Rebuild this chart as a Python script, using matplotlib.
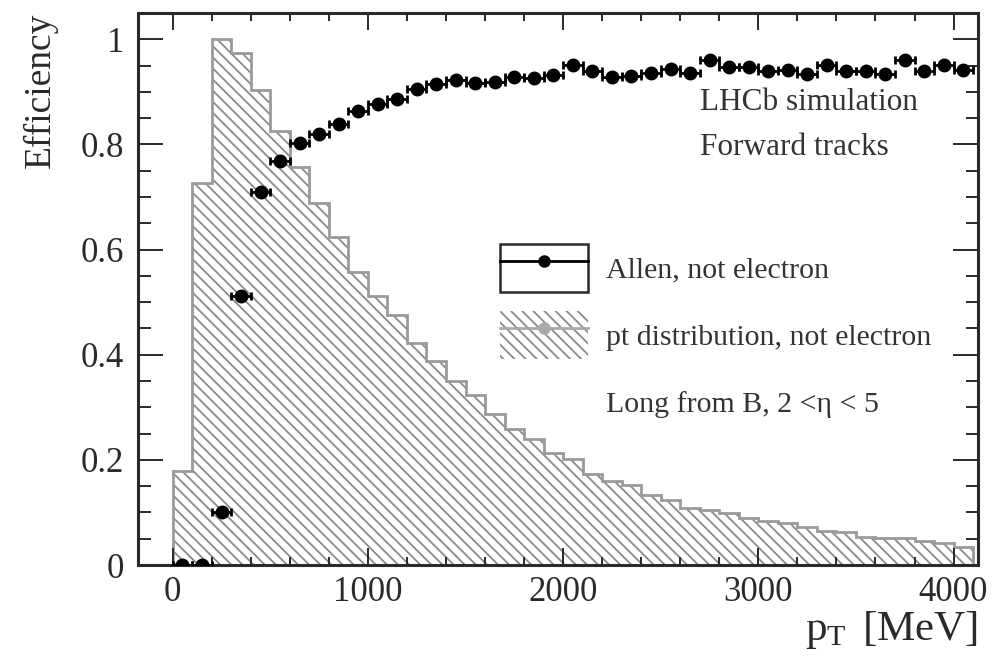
import numpy as np
import matplotlib
matplotlib.use('Agg')
import matplotlib.pyplot as plt
from matplotlib.patches import Rectangle
from matplotlib.lines import Line2D
from matplotlib.legend_handler import HandlerTuple
from matplotlib.ticker import MultipleLocator

plt.rcParams['font.family'] = ['Liberation Serif', 'DejaVu Serif']
plt.rcParams['mathtext.fontset'] = 'custom'
plt.rcParams['mathtext.rm'] = 'Liberation Serif'
plt.rcParams['mathtext.it'] = 'Liberation Serif:italic'
plt.rcParams['hatch.linewidth'] = 1.3

# pt distribution (normalised), 100 MeV bins
hist_edges = np.arange(-100, 4101, 100)
hist_vals = [0.0, 0.178, 0.727, 1.0, 0.974, 0.904, 0.825, 0.757, 0.689, 0.624,
             0.557, 0.512, 0.476, 0.423, 0.388, 0.350, 0.323, 0.287, 0.258,
             0.240, 0.213, 0.201, 0.173, 0.159, 0.152, 0.134, 0.124, 0.109,
             0.104, 0.099, 0.089, 0.083, 0.080, 0.073, 0.065, 0.063, 0.054,
             0.051, 0.051, 0.045, 0.042, 0.035]

# Allen efficiency, bin centres
eff_x = np.arange(50, 4100, 100)
eff_y = [0.0, 0.0, 0.10, 0.511, 0.710, 0.768, 0.803, 0.820, 0.838, 0.864,
         0.876, 0.887, 0.905, 0.915, 0.923, 0.916, 0.918, 0.928, 0.926, 0.932,
         0.951, 0.940, 0.928, 0.930, 0.935, 0.944, 0.935, 0.961, 0.948, 0.948,
         0.940, 0.942, 0.934, 0.951, 0.940, 0.940, 0.934, 0.961, 0.940, 0.951,
         0.942]
eff_xerr = 50

hatch_col = '#8a8a8a'
line_col = '#9a9a9a'
text_col = '#2a2a2a'
hatch = '\\\\\\'

fig = plt.figure(figsize=(9.97, 6.70), dpi=100)
ax = fig.add_axes([0.1384, 0.1567, 0.8425, 0.8239])

ax.stairs(hist_vals, hist_edges, fill=True, facecolor='none',
          edgecolor=hatch_col, hatch=hatch, linewidth=0)
ax.stairs(hist_vals, hist_edges, fill=False, edgecolor=line_col, linewidth=2)

ax.errorbar(eff_x, eff_y, xerr=eff_xerr, fmt='o', color='black', ms=9,
            elinewidth=2, capsize=3, capthick=2, zorder=5)

ax.set_xlim(-178, 4125)
ax.set_ylim(0, 1.05)

ax.xaxis.set_major_locator(MultipleLocator(1000))
ax.xaxis.set_minor_locator(MultipleLocator(200))
ax.yaxis.set_major_locator(MultipleLocator(0.2))
ax.yaxis.set_minor_locator(MultipleLocator(0.05))
ax.yaxis.set_major_formatter(plt.FuncFormatter(lambda v, p: '%g' % round(v, 2)))

ax.tick_params(which='both', direction='in', top=True, right=True,
               labelsize=25, width=1.4, colors=text_col)
ax.tick_params(axis='x', which='major', length=12, pad=8)
ax.tick_params(axis='x', which='minor', length=6)
ax.tick_params(axis='y', which='major', length=18, pad=10)
ax.tick_params(axis='y', which='minor', length=9)
for s in ax.spines.values():
    s.set_linewidth(2.2)
    s.set_color(text_col)

ax.set_ylabel('Efficiency', fontsize=27, loc='top', labelpad=16, color=text_col)
ax.set_xlabel(r'p$_{\rm T}\,$ [MeV]', fontsize=31, loc='right', labelpad=0,
              color=text_col)

ax.text(0.669, 0.837, 'LHCb simulation', transform=ax.transAxes,
        fontsize=22.5, va='center', color='#333333')
ax.text(0.669, 0.757, 'Forward tracks', transform=ax.transAxes,
        fontsize=22.5, va='center', color='#333333')

h1 = (Rectangle((0, 0), 1, 1, facecolor='white', edgecolor=text_col, lw=1.8),
      Line2D([], [], color='black', marker='o', ms=8, lw=2))
h2 = (Rectangle((0, 0), 1, 1, facecolor='none', edgecolor=hatch_col,
                hatch=hatch, lw=0),
      Line2D([], [], color='#aaaaaa', marker='o', ms=8, lw=2))
h3 = Line2D([], [], linestyle='none')
leg = ax.legend([h1, h2, h3],
                ['Allen, not electron', 'pt distribution, not electron',
                 'Long from B, 2 <\u03b7 < 5'],
                handler_map={tuple: HandlerTuple(ndivide=1)},
                loc='upper left', bbox_to_anchor=(0.431, 0.5815),
                frameon=False, fontsize=21.5, handlelength=2.95,
                handleheight=2.12, handletextpad=0.6, labelspacing=0.62,
                borderpad=0, borderaxespad=0)
for t in leg.get_texts():
    t.set_color('#333333')

fig.savefig('out.png', dpi=100)
